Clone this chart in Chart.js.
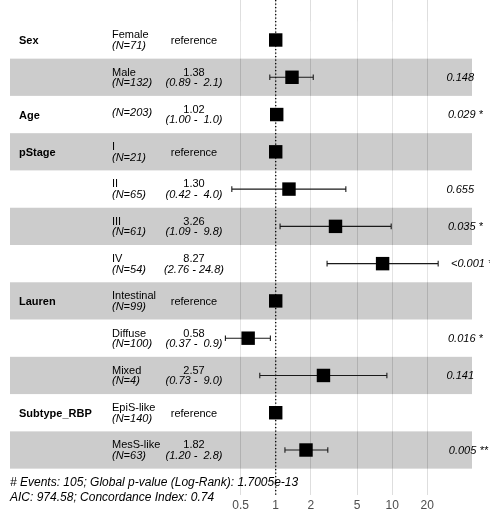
<!DOCTYPE html>
<html>
<head>
<meta charset="utf-8">
<title>Hazard ratio</title>
<script src="https://cdn.jsdelivr.net/npm/chart.js@4"></script>
<style>
  html, body { margin: 0; padding: 0; background: #fff; }
  #wrap { width: 502px; height: 519px; }
</style>
</head>
<body>
<div id="wrap"><canvas id="forest" width="502" height="519"></canvas></div>
<script>
// rows, top to bottom
const variables = ['Sex', '', 'Age', 'pStage', '', '', '', 'Lauren', '', '', 'Subtype_RBP', ''];
const levels = ['Female', 'Male', '', 'I', 'II', 'III', 'IV', 'Intestinal', 'Diffuse', 'Mixed', 'EpiS-like', 'MesS-like'];
const counts = [71, 132, 203, 21, 65, 61, 54, 99, 100, 4, 140, 63];
const hazardRatios = [1, 1.38, 1.02, 1, 1.30, 3.26, 8.27, 1, 0.58, 2.57, 1, 1.82];
const ciLower = [null, 0.89, 1.00, null, 0.42, 1.09, 2.76, null, 0.37, 0.73, null, 1.20];
const ciUpper = [null, 2.1, 1.0, null, 4.0, 9.8, 24.8, null, 0.9, 9.0, null, 2.8];
const pValues = ['', '0.148', '0.029 *', '', '0.655', '0.035 *', '<0.001 ***', '', '0.016 *', '0.141', '', '0.005 **'];
const tickValues = [0.5, 1, 2, 5, 10, 20];
const footerLines = [
    '# Events: 105; Global p-value (Log-Rank): 1.7005e-13',
    'AIC: 974.58; Concordance Index: 0.74'
];

const FONT = '"Liberation Sans", Arial, Helvetica, sans-serif';

// bands, reference line and whiskers go under the squares
const forestBackground = {
    id: 'forestBackground',
    beforeDatasetsDraw(chart) {
        const ctx = chart.ctx;
        const area = chart.chartArea;
        const xScale = chart.scales.x;
        const yScale = chart.scales.y;

        ctx.save();
        for (let i = 0; i < levels.length; i++) {
            const top = yScale.getPixelForValue(i + 0.5);
            const bottom = yScale.getPixelForValue(i + 1.5);
            ctx.fillStyle = i % 2 === 0 ? 'rgba(255, 255, 255, 0.2)' : 'rgba(0, 0, 0, 0.2)';
            ctx.fillRect(area.left, top, area.right - area.left, bottom - top);
        }

        // dotted line at HR = 1
        const x1 = xScale.getPixelForValue(1);
        ctx.strokeStyle = '#000';
        ctx.lineWidth = 1.3;
        ctx.setLineDash([1.3, 2.2]);
        ctx.beginPath();
        ctx.moveTo(x1, area.top);
        ctx.lineTo(x1, area.bottom);
        ctx.stroke();
        ctx.setLineDash([]);

        // confidence intervals
        ctx.strokeStyle = '#1a1a1a';
        ctx.lineWidth = 1.1;
        for (let i = 0; i < levels.length; i++) {
            if (ciLower[i] === null) continue;
            const yc = yScale.getPixelForValue(i + 1);
            const xl = xScale.getPixelForValue(ciLower[i]);
            const xh = xScale.getPixelForValue(ciUpper[i]);
            ctx.beginPath();
            ctx.moveTo(xl, yc);
            ctx.lineTo(xh, yc);
            ctx.moveTo(xl, yc - 2.8);
            ctx.lineTo(xl, yc + 2.8);
            ctx.moveTo(xh, yc - 2.8);
            ctx.lineTo(xh, yc + 2.8);
            ctx.stroke();
        }
        ctx.restore();
    }
};

// table columns and footer text
const forestTable = {
    id: 'forestTable',
    afterDraw(chart) {
        const ctx = chart.ctx;
        const yScale = chart.scales.y;

        ctx.save();
        ctx.fillStyle = '#000';
        ctx.textBaseline = 'middle';

        for (let i = 0; i < levels.length; i++) {
            const yc = yScale.getPixelForValue(i + 1);

            ctx.textAlign = 'left';
            if (variables[i]) {
                ctx.font = 'bold 11px ' + FONT;
                ctx.fillText(variables[i], 19, yc + 1);
            }

            const nText = '(N=' + counts[i] + ')';
            if (levels[i]) {
                ctx.font = '11px ' + FONT;
                ctx.fillText(levels[i], 112, yc - 4.7);
                ctx.font = 'italic 11px ' + FONT;
                ctx.fillText(nText, 112, yc + 5.8);
            } else {
                ctx.font = 'italic 11px ' + FONT;
                ctx.fillText(nText, 112, yc - 1.5);
            }

            ctx.textAlign = 'center';
            if (ciLower[i] === null) {
                ctx.font = '11px ' + FONT;
                ctx.fillText('reference', 194, yc + 0.8);
            } else {
                ctx.font = '11px ' + FONT;
                ctx.fillText(hazardRatios[i].toFixed(2), 194, yc - 4.7);
                ctx.font = 'italic 11px ' + FONT;
                const ci = '(' + ciLower[i].toFixed(2) + ' - ' + ciUpper[i].toFixed(1).padStart(4, ' ') + ')';
                ctx.fillText(ci, 194, yc + 5.8);
            }

            if (pValues[i]) {
                // the panel cuts off the stars of the last column
                ctx.save();
                ctx.beginPath();
                ctx.rect(0, 0, 490, chart.height);
                ctx.clip();
                ctx.font = 'italic 11px ' + FONT;
                ctx.textAlign = 'left';
                const w = ctx.measureText(pValues[i]).width;
                ctx.fillText(pValues[i], 441 + 0.2 * w, yc + 0.5);
                ctx.restore();
            }
        }

        ctx.font = 'italic 12px ' + FONT;
        ctx.textAlign = 'left';
        ctx.fillText(footerLines[0], 10, 482.7);
        ctx.fillText(footerLines[1], 10, 498);
        ctx.restore();
    }
};

// data block
const points = hazardRatios.map((hr, i) => ({ x: hr, y: i + 1 }));

// config block
const config = {
    type: 'scatter',
    data: {
        datasets: [{
            data: points,
            pointStyle: 'rect',
            pointRadius: 9.5,
            pointHoverRadius: 9.5,
            backgroundColor: '#000',
            borderWidth: 0
        }]
    },
    options: {
        responsive: false,
        animation: false,
        events: [],
        layout: {
            autoPadding: false,
            padding: { left: 10, right: 30, top: 0, bottom: 3.6 }
        },
        scales: {
            x: {
                type: 'logarithmic',
                position: 'bottom',
                min: 0.00524,
                max: 48.4,
                bounds: 'data',
                afterBuildTicks: (axis) => {
                    axis.ticks = tickValues.map(v => ({ value: v }));
                },
                grid: {
                    color: '#dedede',
                    lineWidth: 1,
                    drawTicks: false
                },
                border: { display: false },
                ticks: {
                    color: '#4d4d4d',
                    font: { family: FONT, size: 12 },
                    padding: 3,
                    autoSkip: false,
                    maxRotation: 0,
                    callback: (value) => String(value)
                }
            },
            y: {
                type: 'linear',
                display: false,
                reverse: true,
                min: -0.073,
                max: 13.207
            }
        },
        plugins: {
            legend: { display: false },
            tooltip: { enabled: false }
        }
    },
    plugins: [forestBackground, forestTable]
};

new Chart(document.getElementById('forest'), config);
</script>
</body>
</html>
